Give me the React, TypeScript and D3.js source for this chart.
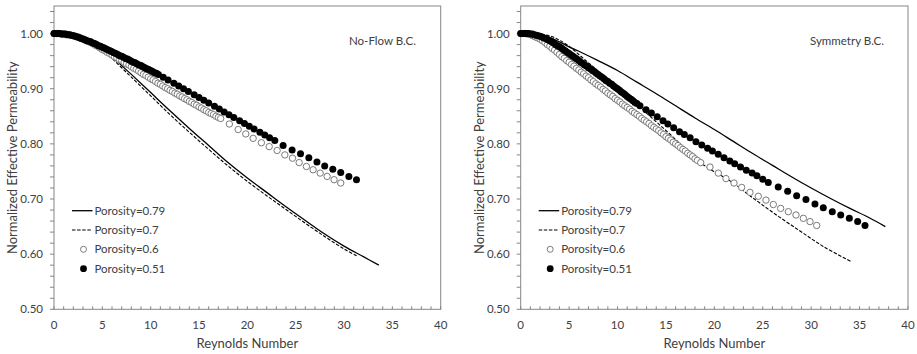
import React from 'react';
import * as d3 from 'd3';

// ---------- data ----------
const xTickValues = [0, 5, 10, 15, 20, 25, 30, 35, 40];
const yTickValues = [0.5, 0.6, 0.7, 0.8, 0.9, 1.0];
const seriesLabels = ['Porosity=0.79', 'Porosity=0.7', 'Porosity=0.6', 'Porosity=0.51'];
const panelTitles = ['No-Flow B.C.', 'Symmetry B.C.'];
const xAxisTitle = 'Reynolds Number';
const yAxisTitle = 'Normalized Effective Permeability';

// No-Flow B.C.
const noFlowPor079: [number, number][] = [[0,1.000],[1,0.9995],[2,0.998],[3,0.994],[4,0.986],[5,0.973],[6,0.958],[7,0.942],[8,0.926],[10,0.893],[12,0.860],[14,0.828],[16,0.797],[18,0.766],[20,0.738],[22,0.712],[24,0.686],[26,0.661],[28,0.6365],[30,0.6145],[32,0.5955],[33.6,0.580]];
const noFlowPor07: [number, number][] = [[0,1.000],[1,0.9995],[2,0.998],[3,0.993],[4,0.985],[5,0.972],[6,0.955],[7,0.938],[8,0.921],[10,0.887],[12,0.853],[14,0.821],[16,0.790],[18,0.760],[20,0.732],[22,0.706],[24,0.681],[26,0.656],[28,0.632],[30,0.6095],[31.3,0.597]];
const noFlowPor06: [number, number][] = [[0,1.000],[0.25,1.000],[0.5,1.000],[0.75,0.999],[1.0,0.999],[1.25,0.998],[1.5,0.998],[1.75,0.997],[2.0,0.996],[2.25,0.995],[2.5,0.994],[2.75,0.992],[3.0,0.990],[3.25,0.988],[3.5,0.986],[3.75,0.984],[4.0,0.982],[4.25,0.979],[4.5,0.977],[4.75,0.974],[5.0,0.971],[5.25,0.969],[5.5,0.966],[5.75,0.964],[6.0,0.961],[6.25,0.958],[6.5,0.956],[6.75,0.953],[7.0,0.951],[7.25,0.948],[7.5,0.945],[7.75,0.943],[8.0,0.940],[8.25,0.937],[8.5,0.935],[8.75,0.932],[9.0,0.929],[9.25,0.926],[9.5,0.924],[9.75,0.921],[10.0,0.918],[10.25,0.916],[10.5,0.913],[10.75,0.910],[11.0,0.908],[11.25,0.905],[11.5,0.902],[11.75,0.900],[12.0,0.897],[12.25,0.895],[12.5,0.892],[12.75,0.890],[13.0,0.887],[13.25,0.885],[13.5,0.882],[13.75,0.880],[14.0,0.877],[14.25,0.875],[14.5,0.872],[14.75,0.870],[15.0,0.867],[15.25,0.865],[15.5,0.862],[15.75,0.860],[16.0,0.857],[16.25,0.855],[16.5,0.853],[16.75,0.850],[17.0,0.848],[17.24,0.846],[18.14,0.836],[19.05,0.826],[19.84,0.818],[20.6,0.810],[21.45,0.802],[22.26,0.795],[23.08,0.788],[23.88,0.780],[24.67,0.774],[25.36,0.766],[26.11,0.759],[26.8,0.753],[27.53,0.747],[28.25,0.741],[28.97,0.735],[29.66,0.729]];
const noFlowPor051: [number, number][] = [[0,1.000],[0.2,1.000],[0.4,1.000],[0.6,1.000],[0.8,0.999],[1.0,0.999],[1.2,0.999],[1.4,0.998],[1.6,0.998],[1.8,0.997],[2.0,0.996],[2.2,0.995],[2.4,0.994],[2.6,0.993],[2.8,0.991],[3.0,0.990],[3.2,0.989],[3.4,0.987],[3.6,0.986],[3.8,0.985],[4.0,0.983],[4.2,0.982],[4.4,0.980],[4.6,0.978],[4.8,0.977],[5.0,0.975],[5.2,0.974],[5.4,0.972],[5.6,0.970],[5.8,0.969],[6.0,0.967],[6.2,0.965],[6.4,0.964],[6.6,0.962],[6.8,0.960],[7.0,0.959],[7.2,0.957],[7.4,0.955],[7.6,0.954],[7.8,0.952],[8.0,0.950],[8.2,0.948],[8.4,0.947],[8.6,0.945],[8.8,0.943],[9.0,0.942],[9.2,0.940],[9.4,0.938],[9.6,0.936],[9.8,0.935],[10.0,0.933],[10.2,0.931],[10.4,0.929],[10.6,0.928],[10.8,0.926],[11.3,0.921],[11.8,0.916],[12.4,0.910],[12.9,0.905],[13.4,0.900],[13.9,0.895],[14.5,0.889],[15.0,0.884],[15.5,0.879],[16.0,0.874],[16.6,0.868],[17.1,0.863],[17.6,0.858],[18.1,0.853],[18.6,0.848],[19.2,0.842],[19.7,0.837],[20.2,0.832],[20.7,0.827],[21.3,0.821],[21.8,0.816],[22.3,0.811],[22.84,0.806],[23.7,0.797],[24.63,0.789],[25.5,0.782],[26.36,0.775],[27.2,0.767],[28.0,0.760],[28.84,0.754],[29.66,0.748],[30.5,0.741],[31.29,0.735]];

// Symmetry B.C.
const symPor079: [number, number][] = [[0,1.000],[1,1.000],[2,0.998],[3,0.993],[4,0.985],[5,0.976],[6,0.968],[8,0.951],[10,0.933],[12,0.912],[14,0.891],[16,0.869],[18,0.847],[20,0.826],[22,0.804],[24,0.782],[26,0.761],[28,0.740],[30,0.720],[32,0.701],[34,0.683],[36,0.666],[37.66,0.650]];
const symPor07: [number, number][] = [[0,1.000],[1,1.000],[2,0.999],[3,0.996],[4,0.988],[5,0.977],[6,0.962],[7,0.947],[8,0.932],[10,0.902],[12,0.871],[14,0.840],[16,0.808],[18,0.773],[19.4,0.756],[21.96,0.729],[23.68,0.706],[26.09,0.675],[28.85,0.642],[31.25,0.614],[34.08,0.587]];
const symPor06: [number, number][] = [[0,1.000],[0.25,1.000],[0.5,1.000],[0.75,0.999],[1.0,0.998],[1.25,0.996],[1.5,0.994],[1.75,0.992],[2.0,0.990],[2.25,0.987],[2.5,0.984],[2.75,0.980],[3.0,0.977],[3.25,0.973],[3.5,0.970],[3.75,0.966],[4.0,0.962],[4.25,0.958],[4.5,0.955],[4.75,0.951],[5.0,0.948],[5.25,0.944],[5.5,0.941],[5.75,0.937],[6.0,0.934],[6.25,0.930],[6.5,0.927],[6.75,0.923],[7.0,0.920],[7.25,0.916],[7.5,0.913],[7.75,0.909],[8.0,0.906],[8.25,0.903],[8.5,0.899],[8.75,0.896],[9.0,0.892],[9.25,0.889],[9.5,0.886],[9.75,0.882],[10.0,0.879],[10.25,0.876],[10.5,0.872],[10.75,0.869],[11.0,0.866],[11.25,0.863],[11.5,0.859],[11.75,0.856],[12.0,0.853],[12.25,0.850],[12.5,0.846],[12.75,0.843],[13.0,0.840],[13.25,0.837],[13.5,0.833],[13.75,0.830],[14.0,0.827],[14.25,0.824],[14.5,0.820],[14.75,0.817],[15.0,0.813],[15.25,0.810],[15.5,0.807],[15.75,0.803],[16.0,0.800],[16.25,0.797],[16.5,0.793],[16.75,0.790],[17.0,0.787],[17.25,0.783],[17.5,0.780],[17.75,0.777],[18.0,0.773],[18.25,0.770],[18.59,0.766],[19.55,0.758],[20.41,0.747],[21.2,0.737],[22.03,0.729],[22.82,0.721],[23.68,0.712],[24.54,0.705],[25.33,0.698],[26.09,0.690],[26.85,0.683],[27.64,0.677],[28.43,0.671],[29.19,0.665],[29.88,0.659],[30.57,0.652]];
const symPor051: [number, number][] = [[0,1.000],[0.2,1.000],[0.4,1.000],[0.6,1.000],[0.8,1.000],[1.0,0.999],[1.2,0.999],[1.4,0.998],[1.6,0.997],[1.8,0.996],[2.0,0.995],[2.2,0.994],[2.4,0.992],[2.6,0.991],[2.8,0.989],[3.0,0.987],[3.2,0.985],[3.4,0.983],[3.6,0.980],[3.8,0.978],[4.0,0.976],[4.2,0.974],[4.4,0.971],[4.6,0.969],[4.8,0.966],[5.0,0.964],[5.2,0.961],[5.4,0.959],[5.6,0.956],[5.8,0.954],[6.0,0.951],[6.2,0.948],[6.4,0.946],[6.6,0.943],[6.8,0.941],[7.0,0.938],[7.2,0.936],[7.4,0.933],[7.6,0.931],[7.8,0.928],[8.0,0.926],[8.2,0.923],[8.4,0.921],[8.6,0.918],[8.8,0.915],[9.0,0.913],[9.2,0.910],[9.4,0.908],[9.6,0.905],[9.8,0.902],[10.0,0.900],[10.2,0.897],[10.4,0.894],[10.6,0.892],[10.8,0.889],[11.0,0.886],[11.2,0.883],[11.4,0.881],[11.6,0.878],[11.8,0.875],[12.0,0.873],[12.32,0.869],[12.94,0.862],[13.5,0.856],[14.1,0.849],[14.7,0.842],[15.2,0.836],[15.8,0.829],[16.4,0.822],[16.9,0.817],[17.5,0.811],[18.1,0.804],[18.7,0.798],[19.3,0.792],[19.8,0.787],[20.4,0.781],[21.0,0.775],[21.6,0.769],[22.1,0.764],[22.7,0.758],[23.3,0.752],[23.9,0.747],[24.4,0.742],[25.0,0.736],[25.57,0.730],[26.6,0.722],[27.57,0.714],[28.5,0.706],[29.46,0.699],[30.39,0.691],[31.25,0.684],[32.18,0.677],[33.05,0.671],[33.94,0.665],[34.8,0.659],[35.56,0.652]];

// ---------- styling ----------
const FONT = "Lato, 'Open Sans', sans-serif";
const TEXT = '#404040';
const AXIS = '#868686';
const OPEN_STROKE = '#7a7a7a';

type Pt = [number, number];

interface PanelProps {
  left: number; right: number; top: number; bottom: number;
  title: string; titleX: number;
  solid: Pt[]; dashed: Pt[]; open: Pt[]; filled: Pt[];
}

function Panel({ left, right, top, bottom, title, titleX, solid, dashed, open, filled }: PanelProps) {
  const x = d3.scaleLinear().domain([0, 40]).range([left, right]);
  const y = d3.scaleLinear().domain([0.5, 1.05]).range([bottom, top]);
  const line = d3.line<Pt>().x(d => x(d[0])).y(d => y(d[1])).curve(d3.curveCatmullRom.alpha(0.5));
  const xMinor = x.ticks(40);
  const yMinor = y.ticks(25).filter(v => v <= 1.05 + 1e-9);
  const legendRows = [210.7, 230, 249.3, 268.7];
  const lx0 = left + 18, lx1 = left + 38.5, lm = left + 29.5, lt = left + 40.5;
  return (
    <g>
      <rect x={left} y={top} width={right - left} height={bottom - top} fill="white" stroke={AXIS} strokeWidth={1} />
      {yMinor.map((v, i) => (
        <line key={'yt' + i} x1={left - 4} x2={left} y1={y(v)} y2={y(v)} stroke={AXIS} strokeWidth={1} />
      ))}
      {xMinor.map((v, i) => (
        <line key={'xt' + i} x1={x(v)} x2={x(v)} y1={bottom} y2={bottom - 3} stroke={AXIS} strokeWidth={1} />
      ))}
      {yTickValues.map(v => (
        <text key={'yl' + v} x={left - 11} y={y(v) + 4} textAnchor="end" fontSize={11.5} fontFamily={FONT} fill={TEXT}>{v.toFixed(2)}</text>
      ))}
      {xTickValues.map(v => (
        <text key={'xl' + v} x={x(v)} y={329} textAnchor="middle" fontSize={11.5} fontFamily={FONT} fill={TEXT}>{v}</text>
      ))}
      <text x={(left + right) / 2} y={348} textAnchor="middle" fontSize={13} fontFamily={FONT} fill={TEXT}>{xAxisTitle}</text>
      <text transform={`translate(${left - 37},${(top + bottom) / 2}) rotate(-90)`} textAnchor="middle" fontSize={13} fontFamily={FONT} fill={TEXT}>{yAxisTitle}</text>
      <text x={titleX} y={45} fontSize={11.5} fontFamily={FONT} fill={TEXT}>{title}</text>

      <path d={line(solid) || ''} fill="none" stroke="black" strokeWidth={1.3} />
      <path d={line(dashed) || ''} fill="none" stroke="black" strokeWidth={1.1} strokeDasharray="3.5,1.6" />
      {open.map((d, i) => (
        <circle key={'o' + i} cx={x(d[0])} cy={y(d[1])} r={3.2} fill="white" stroke={OPEN_STROKE} strokeWidth={1} />
      ))}
      {filled.map((d, i) => (
        <circle key={'f' + i} cx={x(d[0])} cy={y(d[1])} r={3.5} fill="black" />
      ))}

      <line x1={lx0} x2={lx1} y1={legendRows[0]} y2={legendRows[0]} stroke="black" strokeWidth={1.3} />
      <line x1={lx0} x2={lx1} y1={legendRows[1]} y2={legendRows[1]} stroke="black" strokeWidth={1.1} strokeDasharray="3.5,1.6" />
      <circle cx={lm} cy={legendRows[2]} r={3} fill="white" stroke={OPEN_STROKE} strokeWidth={1} />
      <circle cx={lm} cy={legendRows[3]} r={3.4} fill="black" />
      {seriesLabels.map((s, i) => (
        <text key={'lg' + i} x={lt} y={legendRows[i] + 4} fontSize={11.5} fontFamily={FONT} fill={TEXT}>{s}</text>
      ))}
    </g>
  );
}

export default function App() {
  return (
    <svg width={917} height={354} style={{ position: 'absolute', left: 0, top: 0, background: 'white' }}>
      <rect x={0} y={0} width={917} height={354} fill="white" />
      <Panel left={54} right={440.7} top={6} bottom={309.3} title={panelTitles[0]} titleX={349}
        solid={noFlowPor079} dashed={noFlowPor07} open={noFlowPor06} filled={noFlowPor051} />
      <Panel left={520.7} right={908} top={6} bottom={309.3} title={panelTitles[1]} titleX={810}
        solid={symPor079} dashed={symPor07} open={symPor06} filled={symPor051} />
    </svg>
  );
}
